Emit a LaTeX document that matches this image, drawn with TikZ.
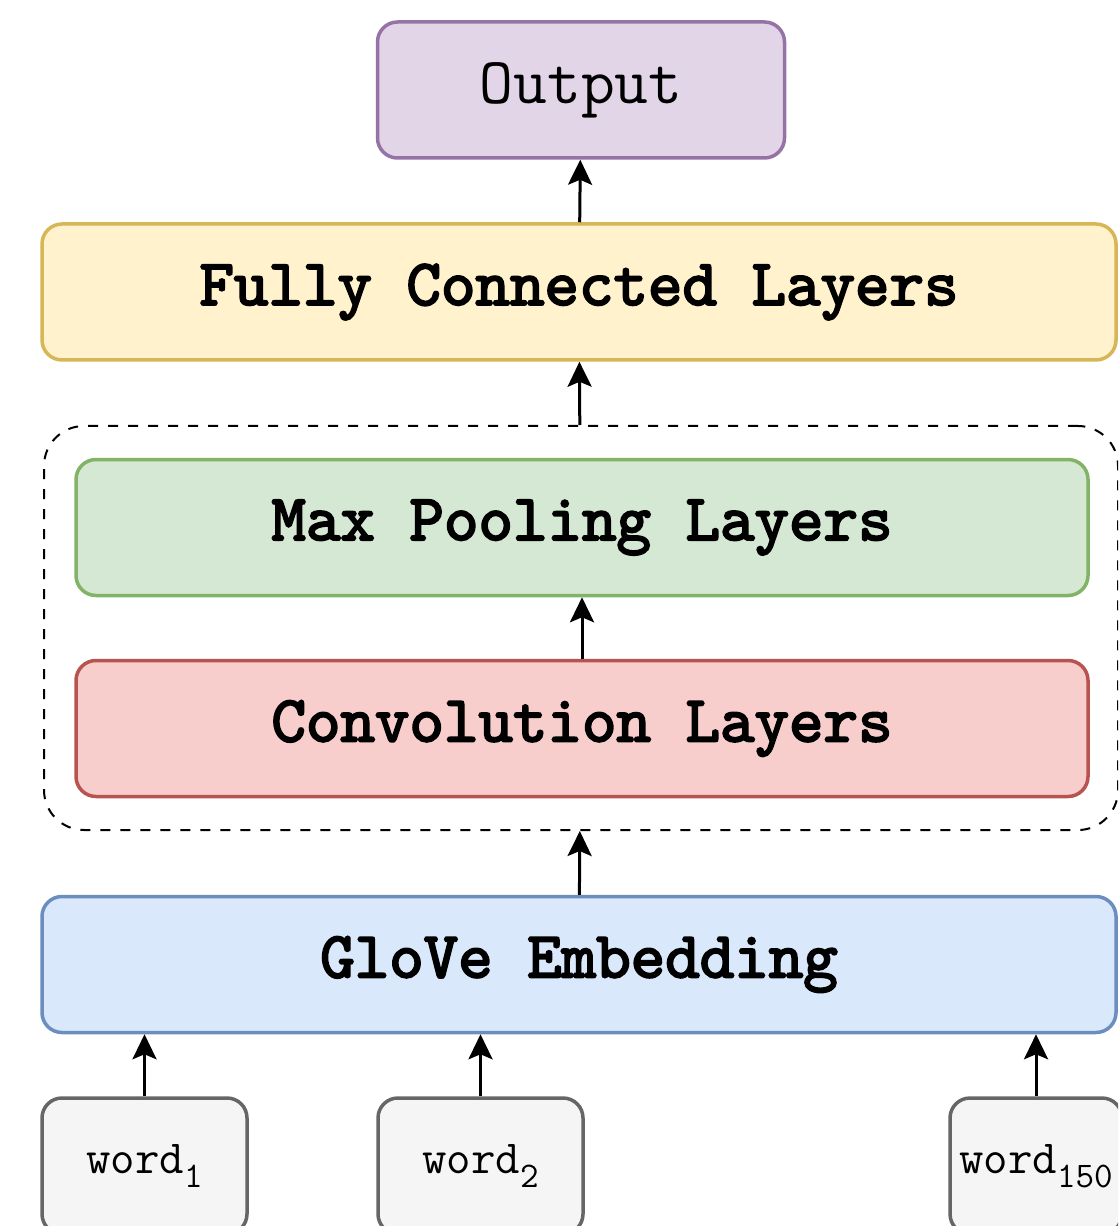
\documentclass[tikz,border=0pt]{standalone}
\usepackage{fontspec}
\newfontfamily\ttheavy{lmmono10-regular.otf}[FakeBold=3]
\usetikzlibrary{arrows.meta}
% draw.io palette
\definecolor{outfill}{HTML}{E1D5E7}\definecolor{outline}{HTML}{9673A6}
\definecolor{fcfill}{HTML}{FFF2CC}\definecolor{fcline}{HTML}{D6B656}
\definecolor{mpfill}{HTML}{D5E8D4}\definecolor{mpline}{HTML}{82B366}
\definecolor{convfill}{HTML}{F8CECC}\definecolor{convline}{HTML}{B85450}
\definecolor{embfill}{HTML}{DAE8FC}\definecolor{embline}{HTML}{6C8EBF}
\definecolor{wordfill}{HTML}{F5F5F5}\definecolor{wordline}{HTML}{666666}
\newcommand{\wsub}[1]{\raisebox{-0.3em}{\fontsize{20.5}{23}\selectfont #1}}
\begin{document}
\begin{tikzpicture}[
  layer/.style={draw, rounded corners=0.4cm, line width=0.07cm, inner sep=0pt, minimum height=2.72cm, font=\ttheavy\fontsize{37.4}{42}\selectfont},
  wordbox/.style={layer, draw=wordline, fill=wordfill, font=\ttfamily\fontsize{27}{30}\selectfont},
  flow/.style={-{Stealth[length=0.5cm,width=0.48cm,inset=0.1cm]}, line width=0.06cm}]
\useasboundingbox (0,0) rectangle (22.36,-24.52);
\clip (0,0) rectangle (22.36,-24.52);
% dashed frame round the CNN part
\node[draw, dashed, dash pattern=on 0.2cm off 0.2cm, line width=0.04cm, rounded corners=0.8cm, minimum width=21.48cm, minimum height=8.08cm] (cnn) at (11.62,-12.56) {};
\node[layer, draw=outline, fill=outfill, minimum width=8.14cm, font=\ttfamily\fontsize{37.4}{42}\selectfont] (out) at (11.62,-1.80) {Output};
\node[layer, draw=fcline, fill=fcfill, minimum width=21.48cm] (fc) at (11.58,-5.84) {Fully Connected Layers};
\node[layer, draw=mpline, fill=mpfill, minimum width=20.24cm] (mp) at (11.64,-10.55) {Max Pooling Layers};
\node[layer, draw=convline, fill=convfill, minimum width=20.24cm] (conv) at (11.64,-14.57) {Convolution Layers};
\node[layer, draw=embline, fill=embfill, minimum width=21.48cm] (emb) at (11.58,-19.29) {GloVe Embedding};
\node[wordbox, minimum width=4.1cm] (w1) at (2.89,-23.32) {word\wsub{1}};
\node[wordbox, minimum width=4.1cm] (w2) at (9.61,-23.32) {word\wsub{2}};
\node[wordbox, minimum width=3.44cm] (w150) at (20.72,-23.32) {word\wsub{150}};
\draw[flow] (fc) -- (out);
\draw[flow] (cnn) -- (fc);
\draw[flow] (conv) -- (mp);
\draw[flow] (emb) -- (cnn);
\foreach \w in {w1,w2,w150} \draw[flow] (\w) -- (\w |- emb.south);
\end{tikzpicture}
\end{document}
